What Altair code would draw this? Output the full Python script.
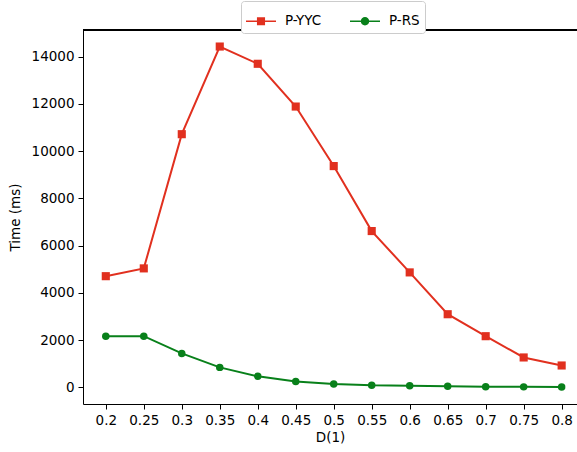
import altair as alt
import pandas as pd

x_vals = [0.2, 0.25, 0.3, 0.35, 0.4, 0.45, 0.5, 0.55, 0.6, 0.65, 0.7, 0.75, 0.8]
yyc = [4710, 5040, 10720, 14430, 13700, 11890, 9370, 6620, 4870, 3100, 2170, 1270, 930]
rs = [2170, 2170, 1440, 850, 470, 250, 150, 90, 70, 50, 30, 25, 20]
series_names = ["P-YYC", "P-RS"]
colors = ["#e1301f", "#08801a"]
y_ticks = [0, 2000, 4000, 6000, 8000, 10000, 12000, 14000]

rows = []
for name, vals in zip(series_names, [yyc, rs]):
    for xv, yv in zip(x_vals, vals):
        rows.append({"D": xv, "Time": yv, "series": name})
df = pd.DataFrame(rows)

FONT = "DejaVu Sans"
YMIN, YMAX = -700, 15130
XMIN, XMAX = 0.17, 0.8202

xenc = alt.X("D:Q", scale=alt.Scale(domain=[XMIN, XMAX], nice=False, zero=False),
             axis=alt.Axis(values=x_vals, title="D(1)", labelExpr="toString(datum.value)"))
yenc = alt.Y("Time:Q", scale=alt.Scale(domain=[YMIN, YMAX], nice=False, zero=False),
             axis=alt.Axis(values=y_ticks, title="Time (ms)", format="d"))

sq_path = "M-1,-0.05H1V0.05H-1Z M-0.27,-0.27H0.27V0.27H-0.27Z"
ci_path = "M-1,-0.05H1V0.05H-1Z M0.28,0A0.28,0.28 0 1,1 -0.28,0A0.28,0.28 0 1,1 0.28,0Z"

lines = alt.Chart(df).mark_line(strokeWidth=2, clip=True).encode(
    x=xenc, y=yenc,
    color=alt.Color("series:N", scale=alt.Scale(domain=series_names, range=colors), legend=None),
    detail="series:N",
)

points = alt.Chart(df).mark_point(filled=True, opacity=1, clip=True).encode(
    x=xenc, y=yenc,
    color=alt.Color("series:N", scale=alt.Scale(domain=series_names, range=colors), legend=None),
    shape=alt.Shape("series:N", scale=alt.Scale(domain=series_names, range=["square", "circle"]), legend=None),
    size=alt.Size("series:N", scale=alt.Scale(domain=series_names, range=[66, 56]), legend=None),
)

leg = alt.Legend(
    title=None, orient="none", legendX=158, legendY=-29, direction="horizontal",
    labelFont=FONT, labelFontSize=13.5, labelColor="black",
    symbolSize=900, symbolOpacity=1, symbolStrokeWidth=0, labelOffset=9, columnPadding=28,
    strokeColor="#cccccc", fillColor="white", padding=5, cornerRadius=3,
)

legend_layer = alt.Chart(df).mark_point(filled=True, opacity=0, size=900).encode(
    x=xenc, y=yenc,
    color=alt.Color("series:N", scale=alt.Scale(domain=series_names, range=colors), legend=leg),
    shape=alt.Shape("series:N", scale=alt.Scale(domain=series_names, range=[sq_path, ci_path]), legend=leg),
)

top_rule = alt.Chart(df).mark_rule(color="black", strokeWidth=1).encode(y=alt.datum(YMAX))

chart = alt.layer(lines, points, legend_layer, top_rule).resolve_scale(
    shape="independent", size="independent", color="independent"
).resolve_legend(color="independent", shape="independent").properties(
    width=494, height=374,
    autosize=alt.AutoSizeParams(type="none"),
    padding={"left": 83, "top": 30, "right": 0, "bottom": 48},
).configure_view(stroke=None).configure_axis(
    grid=False, domainColor="black", tickColor="black", domainWidth=1, tickWidth=1,
    tickSize=5, labelPadding=4, labelFont=FONT, labelFontSize=13.5, labelColor="black",
    titleFont=FONT, titleFontSize=13.5, titleFontWeight="normal", titleColor="black",
).configure_axisY(titlePadding=9).configure_axisX(titlePadding=4)

chart.save("out.html", embed_options={"renderer": "svg", "actions": False})
